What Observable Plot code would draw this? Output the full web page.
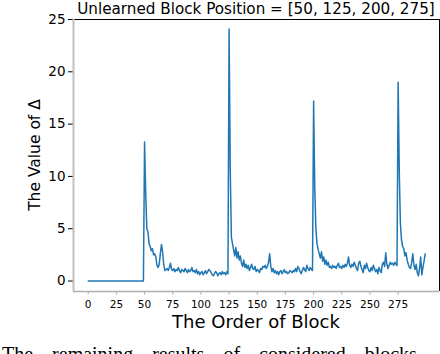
<!DOCTYPE html>
<html>
<head>
<meta charset="utf-8">
<script src="https://cdn.jsdelivr.net/npm/d3@7"></script>
<script src="https://cdn.jsdelivr.net/npm/@observablehq/plot@0.6"></script>
<style>
  html, body { margin: 0; padding: 0; background: #fff; overflow: hidden; }
  #chart { width: 440px; height: 354px; overflow: hidden; position: relative; }
</style>
</head>
<body>
<div id="chart"></div>
<script>
const titleText = "Unlearned Block Position = [50, 125, 200, 275]";
const xLabel = "The Order of Block";
const yLabel = "The Value of Δ";
const captionFragment = "The remaining results of considered blocks";
const xTicks = [0, 25, 50, 75, 100, 125, 150, 175, 200, 225, 250, 275];
const yTicks = [0, 5, 10, 15, 20, 25];

// Δ values for blocks 0..299
const segmentLearned = [
  0,0,0,0,0,0,0,0,0,0, 0,0,0,0,0,0,0,0,0,0,
  0,0,0,0,0,0,0,0,0,0, 0,0,0,0,0,0,0,0,0,0,
  0,0,0,0,0,0,0,0,0,0
];
const segment50 = [
  13.3,8.5,5.0,4.7,3.6,3.3,2.9,3.1,2.5,2.6,
  2.3,1.5,1.3,1.6,2.6,3.5,2.8,1.6,1.0,1.1,
  1.2,1.0,1.3,1.7,1.1,1.0,1.2,0.9,1.1,1.0,
  1.3,1.0,0.8,1.1,1.0,0.9,1.2,1.0,0.8,1.1,
  0.9,1.0,1.3,0.9,1.0,0.8,1.1,0.7,0.9,0.6,
  0.8,0.9,0.6,0.8,1.0,0.7,0.9,1.1,1.0,0.8,
  0.6,0.5,0.7,0.9,0.8,0.5,0.7,0.8,0.6,0.9,
  0.7,0.8,0.6,0.9,0.7
];
const segment125 = [
  24.1,11.0,4.2,3.6,3.0,2.4,3.2,2.2,2.8,2.0,
  2.4,1.7,1.4,2.0,1.3,1.6,1.2,1.5,1.0,1.3,
  1.6,1.2,1.1,1.4,0.9,1.1,1.0,0.8,1.2,1.1,
  1.4,1.3,1.5,1.2,1.4,1.8,2.6,1.4,0.9,1.2,
  0.8,1.0,0.7,0.9,0.6,0.9,1.0,0.7,0.9,1.1,
  0.8,0.9,0.7,0.8,1.0,0.9,0.8,1.0,0.9,1.2,
  0.9,1.4,1.2,0.9,0.7,1.0,1.3,1.1,0.9,1.5,
  1.2,1.0,1.3,1.1,1.0
];
const segment200 = [
  17.2,9.0,5.0,3.6,3.0,2.6,2.2,2.8,1.9,2.3,
  1.6,2.0,1.5,1.8,1.3,1.4,1.2,1.5,1.3,1.4,
  1.2,1.5,1.7,1.3,1.4,1.2,1.5,1.3,1.6,1.4,
  1.7,2.3,1.5,1.3,1.6,1.4,1.8,1.5,1.2,1.0,
  1.7,1.9,1.4,1.1,0.8,1.5,1.2,1.7,1.3,1.0,
  0.9,1.3,1.0,1.5,1.2,0.9,1.1,0.7,1.3,1.0,
  0.8,1.6,1.8,1.4,2.7,1.6,1.2,1.5,1.8,1.6,
  1.7,1.5,1.8,1.6,1.5
];
const segment275 = [
  19.0,10.5,5.5,3.9,3.3,3.1,2.4,2.7,2.0,1.6,
  1.3,1.2,1.8,2.6,1.5,1.1,1.6,0.8,0.5,1.2,
  2.3,0.6,1.3,1.9,2.6
];
const deltaValues = [...segmentLearned, ...segment50, ...segment125, ...segment200, ...segment275];
const data = deltaValues.map((v, i) => ({order: i, delta: v}));

const W = 440, H = 354;
const mL = 73, mR = 1, mT = 19, mB = 63;
const font = "DejaVu Sans, sans-serif";

const plot = Plot.plot({
  width: W,
  height: H,
  marginLeft: mL,
  marginRight: mR,
  marginTop: mT,
  marginBottom: mB,
  style: {fontFamily: font, background: "#fff", overflow: "visible"},
  x: {domain: [-13.05, 311.7]},
  y: {domain: [-1, 25]},
  marks: [
    Plot.axisY({ticks: yTicks, tickSize: 5, tickPadding: 3, fontSize: 13.5, label: null, stroke: "#000", color: "#000"}),
    Plot.axisX({ticks: xTicks, tickSize: 3.5, tickPadding: 6, fontSize: 10.5, label: null, stroke: "#aaa", color: "#000"}),
    Plot.line(data, {x: "order", y: "delta", stroke: "#1f77b4", strokeWidth: 1.5}),
    Plot.ruleY([25], {stroke: "#000", strokeWidth: 1}),
    Plot.ruleX([311.7], {stroke: "#000", strokeWidth: 1}),
    Plot.ruleX([-13.05], {stroke: "#c0c0c0", strokeWidth: 2}),
    Plot.ruleY([-1], {stroke: "#b0b0b0", strokeWidth: 1.5})
  ]
});

const svg = d3.select(plot);
svg.append("text")
  .attr("x", 256).attr("y", 13.5)
  .attr("text-anchor", "middle")
  .attr("font-family", font).attr("font-size", 15.2)
  .attr("fill", "#000")
  .text(titleText);
svg.append("text")
  .attr("x", 256).attr("y", 327.5)
  .attr("text-anchor", "middle")
  .attr("font-family", font).attr("font-size", 18)
  .attr("fill", "#000")
  .text(xLabel);
svg.append("text")
  .attr("transform", "translate(40,155) rotate(-90)")
  .attr("text-anchor", "middle")
  .attr("font-family", font).attr("font-size", 15.5)
  .attr("fill", "#000")
  .text(yLabel);
svg.append("text")
  .attr("x", 2).attr("y", 361)
  .attr("text-anchor", "start")
  .attr("font-family", "Liberation Serif, serif").attr("font-size", 20)
  .attr("word-spacing", 14)
  .attr("fill", "#000")
  .text(captionFragment);

document.getElementById("chart").appendChild(plot);
</script>
</body>
</html>
